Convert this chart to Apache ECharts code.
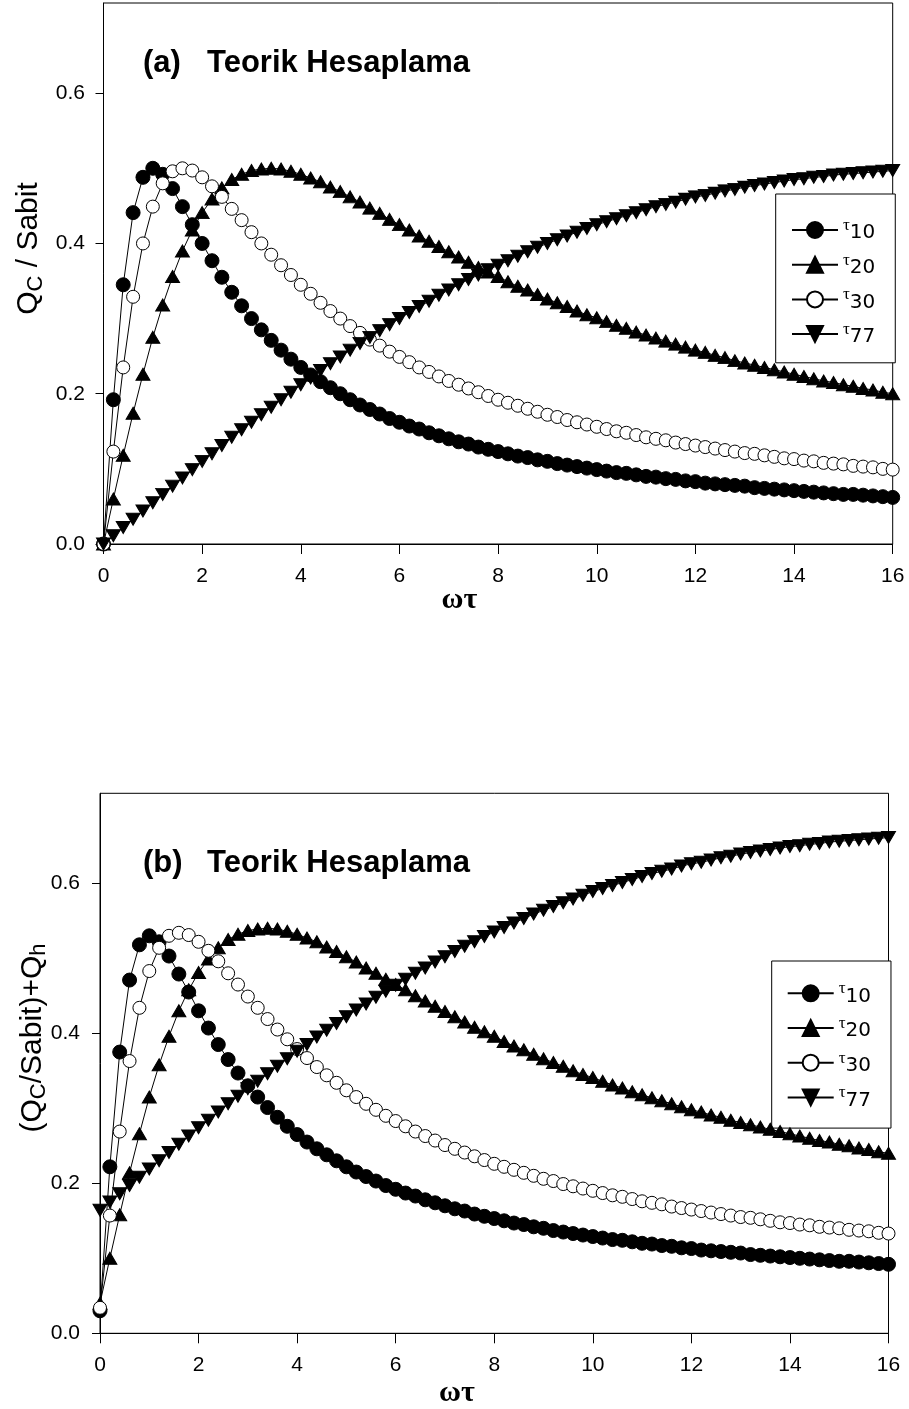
<!DOCTYPE html>
<html>
<head>
<meta charset="utf-8">
<script src="https://cdn.jsdelivr.net/npm/echarts@6/dist/echarts.min.js"></script>
<style>
  html, body { margin: 0; padding: 0; background: #fff; }
  #chart { width: 909px; height: 1409px; }
</style>
</head>
<body>
<div id="chart"></div>
<script>
// ωτ values shared by every curve
const omegaTau = [0,
  0.2, 0.4, 0.6, 0.8, 1,
  1.2, 1.4, 1.6, 1.8, 2,
  2.2, 2.4, 2.6, 2.8, 3,
  3.2, 3.4, 3.6, 3.8, 4,
  4.2, 4.4, 4.6, 4.8, 5,
  5.2, 5.4, 5.6, 5.8, 6,
  6.2, 6.4, 6.6, 6.8, 7,
  7.2, 7.4, 7.6, 7.8, 8,
  8.2, 8.4, 8.6, 8.8, 9,
  9.2, 9.4, 9.6, 9.8, 10,
  10.2, 10.4, 10.6, 10.8, 11,
  11.2, 11.4, 11.6, 11.8, 12,
  12.2, 12.4, 12.6, 12.8, 13,
  13.2, 13.4, 13.6, 13.8, 14,
  14.2, 14.4, 14.6, 14.8, 15,
  15.2, 15.4, 15.6, 15.8, 16];

// (a) Q_C / Sabit
const qcTau10 = [0,
  0.192, 0.345, 0.441, 0.488, 0.500,
  0.492, 0.473, 0.449, 0.425, 0.400,
  0.377, 0.355, 0.335, 0.317, 0.300,
  0.285, 0.271, 0.258, 0.246, 0.235,
  0.225, 0.216, 0.208, 0.200, 0.192,
  0.185, 0.179, 0.173, 0.167, 0.162,
  0.157, 0.153, 0.148, 0.144, 0.140,
  0.136, 0.133, 0.129, 0.126, 0.123,
  0.120, 0.117, 0.115, 0.112, 0.110,
  0.107, 0.105, 0.103, 0.101, 0.099,
  0.097, 0.095, 0.094, 0.092, 0.090,
  0.089, 0.087, 0.086, 0.084, 0.083,
  0.081, 0.080, 0.079, 0.078, 0.077,
  0.075, 0.074, 0.073, 0.072, 0.071,
  0.070, 0.069, 0.068, 0.067, 0.066,
  0.066, 0.065, 0.064, 0.063, 0.062];

const qcTau20 = [0,
  0.060, 0.118, 0.174, 0.226, 0.275,
  0.318, 0.356, 0.390, 0.418, 0.441,
  0.459, 0.474, 0.485, 0.492, 0.497,
  0.499, 0.500, 0.499, 0.496, 0.492,
  0.487, 0.482, 0.475, 0.469, 0.462,
  0.455, 0.447, 0.440, 0.432, 0.425,
  0.418, 0.410, 0.403, 0.396, 0.389,
  0.382, 0.375, 0.368, 0.362, 0.356,
  0.349, 0.343, 0.338, 0.332, 0.326,
  0.321, 0.316, 0.310, 0.305, 0.301,
  0.296, 0.291, 0.287, 0.282, 0.278,
  0.274, 0.270, 0.266, 0.262, 0.258,
  0.255, 0.251, 0.248, 0.244, 0.241,
  0.238, 0.235, 0.232, 0.229, 0.226,
  0.223, 0.220, 0.217, 0.215, 0.212,
  0.210, 0.207, 0.205, 0.202, 0.200];

const qcTau30 = [0,
  0.123, 0.235, 0.329, 0.400, 0.449,
  0.480, 0.496, 0.500, 0.497, 0.488,
  0.476, 0.462, 0.446, 0.431, 0.415,
  0.400, 0.385, 0.371, 0.358, 0.345,
  0.333, 0.321, 0.310, 0.300, 0.290,
  0.281, 0.272, 0.264, 0.256, 0.249,
  0.242, 0.235, 0.229, 0.223, 0.217,
  0.212, 0.207, 0.202, 0.197, 0.192,
  0.188, 0.184, 0.180, 0.176, 0.172,
  0.169, 0.165, 0.162, 0.159, 0.156,
  0.153, 0.150, 0.148, 0.145, 0.142,
  0.140, 0.138, 0.135, 0.133, 0.131,
  0.129, 0.127, 0.125, 0.123, 0.121,
  0.120, 0.118, 0.116, 0.114, 0.113,
  0.111, 0.110, 0.108, 0.107, 0.106,
  0.104, 0.103, 0.102, 0.100, 0.099];

const qcTau77 = [0,
  0.011, 0.022, 0.033, 0.044, 0.055,
  0.066, 0.077, 0.088, 0.099, 0.110,
  0.120, 0.131, 0.142, 0.152, 0.162,
  0.172, 0.182, 0.192, 0.202, 0.212,
  0.221, 0.231, 0.240, 0.249, 0.258,
  0.267, 0.275, 0.284, 0.292, 0.300,
  0.308, 0.316, 0.323, 0.331, 0.338,
  0.345, 0.352, 0.358, 0.365, 0.371,
  0.377, 0.383, 0.389, 0.395, 0.400,
  0.405, 0.410, 0.415, 0.420, 0.425,
  0.429, 0.433, 0.437, 0.441, 0.445,
  0.449, 0.452, 0.455, 0.459, 0.462,
  0.464, 0.467, 0.470, 0.472, 0.475,
  0.477, 0.479, 0.481, 0.483, 0.485,
  0.486, 0.488, 0.489, 0.491, 0.492,
  0.493, 0.494, 0.495, 0.496, 0.497];

// (b) (Q_C/Sabit)+Q_h
const qhTau10 = [0.030,
  0.222, 0.375, 0.471, 0.518, 0.530,
  0.522, 0.503, 0.479, 0.455, 0.430,
  0.407, 0.385, 0.365, 0.347, 0.330,
  0.315, 0.301, 0.288, 0.276, 0.265,
  0.255, 0.246, 0.238, 0.230, 0.222,
  0.215, 0.209, 0.203, 0.197, 0.192,
  0.187, 0.183, 0.178, 0.174, 0.170,
  0.166, 0.163, 0.159, 0.156, 0.153,
  0.150, 0.147, 0.145, 0.142, 0.140,
  0.137, 0.135, 0.133, 0.131, 0.129,
  0.127, 0.125, 0.124, 0.122, 0.120,
  0.119, 0.117, 0.116, 0.114, 0.113,
  0.111, 0.110, 0.109, 0.108, 0.107,
  0.105, 0.104, 0.103, 0.102, 0.101,
  0.100, 0.099, 0.098, 0.097, 0.096,
  0.096, 0.095, 0.094, 0.093, 0.092];

const qhTau20 = [0.040,
  0.100, 0.158, 0.214, 0.266, 0.315,
  0.358, 0.396, 0.430, 0.458, 0.481,
  0.499, 0.514, 0.525, 0.532, 0.537,
  0.539, 0.540, 0.539, 0.536, 0.532,
  0.527, 0.522, 0.515, 0.509, 0.502,
  0.495, 0.487, 0.480, 0.472, 0.465,
  0.458, 0.450, 0.443, 0.436, 0.429,
  0.422, 0.415, 0.408, 0.402, 0.396,
  0.389, 0.383, 0.378, 0.372, 0.366,
  0.361, 0.356, 0.350, 0.345, 0.341,
  0.336, 0.331, 0.327, 0.322, 0.318,
  0.314, 0.310, 0.306, 0.302, 0.298,
  0.295, 0.291, 0.288, 0.284, 0.281,
  0.278, 0.275, 0.272, 0.269, 0.266,
  0.263, 0.260, 0.257, 0.255, 0.252,
  0.250, 0.247, 0.245, 0.242, 0.240];

const qhTau30 = [0.034,
  0.157, 0.269, 0.363, 0.434, 0.483,
  0.514, 0.530, 0.534, 0.531, 0.522,
  0.510, 0.496, 0.480, 0.465, 0.449,
  0.434, 0.419, 0.405, 0.392, 0.379,
  0.367, 0.355, 0.344, 0.334, 0.324,
  0.315, 0.306, 0.298, 0.290, 0.283,
  0.276, 0.269, 0.263, 0.257, 0.251,
  0.246, 0.241, 0.236, 0.231, 0.226,
  0.222, 0.218, 0.214, 0.210, 0.206,
  0.203, 0.199, 0.196, 0.193, 0.190,
  0.187, 0.184, 0.182, 0.179, 0.176,
  0.174, 0.172, 0.169, 0.167, 0.165,
  0.163, 0.161, 0.159, 0.157, 0.155,
  0.154, 0.152, 0.150, 0.148, 0.147,
  0.145, 0.144, 0.142, 0.141, 0.140,
  0.138, 0.137, 0.136, 0.134, 0.133];

const qhTau77 = [0.164,
  0.175, 0.186, 0.197, 0.208, 0.219,
  0.230, 0.241, 0.252, 0.263, 0.274,
  0.284, 0.295, 0.306, 0.316, 0.326,
  0.336, 0.346, 0.356, 0.366, 0.376,
  0.385, 0.395, 0.404, 0.413, 0.422,
  0.431, 0.439, 0.448, 0.456, 0.464,
  0.472, 0.480, 0.487, 0.495, 0.502,
  0.509, 0.516, 0.522, 0.529, 0.535,
  0.541, 0.547, 0.553, 0.559, 0.564,
  0.569, 0.574, 0.579, 0.584, 0.589,
  0.593, 0.597, 0.601, 0.605, 0.609,
  0.613, 0.616, 0.619, 0.623, 0.626,
  0.628, 0.631, 0.634, 0.636, 0.639,
  0.641, 0.643, 0.645, 0.647, 0.649,
  0.650, 0.652, 0.653, 0.655, 0.656,
  0.657, 0.658, 0.659, 0.660, 0.661];

const seriesNames = ['τ10', 'τ20', 'τ30', 'τ77'];
const xTickValues = [0, 2, 4, 6, 8, 10, 12, 14, 16];
const yTickValues = [0, 0.2, 0.4, 0.6];

const SANS = '"Liberation Sans", Arial, sans-serif';
const SERIF = '"Liberation Serif", "Times New Roman", serif';

// marker look per curve
const markerLook = {
  'τ10': { symbol: 'circle', symbolSize: 14, fill: '#000', rotate: 0 },
  'τ20': { symbol: 'triangle', symbolSize: [14, 12], fill: '#000', rotate: 0 },
  'τ30': { symbol: 'circle', symbolSize: 13, fill: '#fff', rotate: 0 },
  'τ77': { symbol: 'triangle', symbolSize: [14, 12], fill: '#000', rotate: 180 }
};

function makeSeries(name, values, axisIdx) {
  const m = markerLook[name];
  return {
    type: 'line',
    name: name,
    xAxisIndex: axisIdx,
    yAxisIndex: axisIdx,
    data: omegaTau.map((x, i) => [x, values[i]]),
    symbol: m.symbol,
    symbolSize: m.symbolSize,
    symbolRotate: m.rotate,
    showAllSymbol: true,
    clip: false,
    lineStyle: { color: '#000', width: 1 },
    itemStyle: { color: m.fill, borderColor: '#000', borderWidth: 1 },
    emphasis: { disabled: true },
    z: 3
  };
}

function xAxisFor(gridIdx, margin) {
  return {
    type: 'value', gridIndex: gridIdx, min: 0, max: 16, interval: 2,
    axisLine: { show: true, onZero: false, lineStyle: { color: '#000', width: 1 } },
    axisTick: { show: true, inside: false, length: 10, lineStyle: { color: '#000', width: 1 } },
    axisLabel: { color: '#000', fontFamily: SANS, fontSize: 21, margin: margin,
                 customValues: xTickValues, formatter: v => String(v) },
    splitLine: { show: false }
  };
}

function yAxisFor(gridIdx, margin) {
  return {
    type: 'value', gridIndex: gridIdx, min: 0, max: 0.72,
    axisLine: { show: true, lineStyle: { color: '#000', width: 1 } },
    axisTick: { show: true, inside: false, length: 8, customValues: yTickValues,
                lineStyle: { color: '#000', width: 1 } },
    axisLabel: { color: '#000', fontFamily: SANS, fontSize: 21, margin: margin,
                 customValues: yTickValues, formatter: v => v.toFixed(1) },
    splitLine: { show: false }
  };
}

const legendRich = {
  t: { fontFamily: SERIF, fontSize: 17, lineHeight: 12, verticalAlign: 'top', color: '#000' },
  n: { fontFamily: '"DejaVu Sans", sans-serif', fontSize: 20, lineHeight: 26, verticalAlign: 'bottom', color: '#000' }
};

function legendFor(left, top, padding) {
  return {
    data: seriesNames, orient: 'vertical', left: left, top: top,
    itemWidth: 46, itemHeight: 20, itemGap: 8.7,
    padding: padding,
    borderColor: '#000', borderWidth: 1, backgroundColor: '#fff',
    selectedMode: false, z: 1,
    formatter: name => '{t|τ}{n|' + name.slice(1) + '}',
    textStyle: { rich: legendRich }
  };
}

const axisTitleRich = {
  q: { fontFamily: SANS, fontSize: 30, lineHeight: 36, verticalAlign: 'middle', color: '#000' },
  s: { fontFamily: SANS, fontSize: 22, lineHeight: 18, verticalAlign: 'bottom', color: '#000' }
};

function textEl(text, x, y, size, weight, family) {
  return {
    type: 'text', x: x, y: y, silent: true,
    style: { text: text, fontSize: size, fontWeight: weight, fontFamily: family,
             fill: '#000', align: 'left', verticalAlign: 'middle' }
  };
}

const chart = echarts.init(document.getElementById('chart'), null, { renderer: 'canvas' });

chart.setOption({
  animation: false,
  backgroundColor: '#fff',
  grid: [
    { left: 103.5, top: 3, width: 789.2, height: 541, show: true, borderColor: '#000', borderWidth: 1, backgroundColor: 'transparent' },
    { left: 100, top: 793.3, width: 788.5, height: 540, show: true, borderColor: '#000', borderWidth: 1, backgroundColor: 'transparent' }
  ],
  xAxis: [xAxisFor(0, 22), xAxisFor(1, 21.5)],
  yAxis: [yAxisFor(0, 18.5), yAxisFor(1, 20)],
  legend: [
    legendFor(775.7, 194, [23, 20, 15.7, 15.3]),
    legendFor(771.7, 961, [19.3, 20, 17.7, 15])
  ],
  series: [
    makeSeries('τ10', qcTau10, 0),
    makeSeries('τ20', qcTau20, 0),
    makeSeries('τ30', qcTau30, 0),
    makeSeries('τ77', qcTau77, 0),
    makeSeries('τ10', qhTau10, 1),
    makeSeries('τ20', qhTau20, 1),
    makeSeries('τ30', qhTau30, 1),
    makeSeries('τ77', qhTau77, 1)
  ],
  graphic: [
    textEl('(a)', 143, 63.2, 31, 'bold', SANS),
    textEl('Teorik Hesaplama', 207, 63.2, 31, 'bold', SANS),
    textEl('(b)', 143, 863.2, 31, 'bold', SANS),
    textEl('Teorik Hesaplama', 207, 863.2, 31, 'bold', SANS),
    {
      type: 'text', x: 459.5, y: 600.3, silent: true,
      style: { text: 'ωτ', fontSize: 30, fontWeight: 'bold', fontFamily: SERIF,
               fill: '#000', align: 'center', verticalAlign: 'middle' }
    },
    {
      type: 'text', x: 457, y: 1392.8, silent: true,
      style: { text: 'ωτ', fontSize: 30, fontWeight: 'bold', fontFamily: SERIF,
               fill: '#000', align: 'center', verticalAlign: 'middle' }
    },
    {
      type: 'text', x: 29, y: 248.5, rotation: Math.PI / 2, silent: true,
      style: { text: '{q|Q}{s|C}{q| / Sabit}', rich: axisTitleRich,
               align: 'center', verticalAlign: 'middle' }
    },
    {
      type: 'text', x: 32.4, y: 1038, rotation: Math.PI / 2, silent: true,
      style: { text: '{q|(Q}{s|C}{q|/Sabit)+Q}{s|h}', rich: axisTitleRich,
               align: 'center', verticalAlign: 'middle' }
    }
  ]
});
</script>
</body>
</html>
